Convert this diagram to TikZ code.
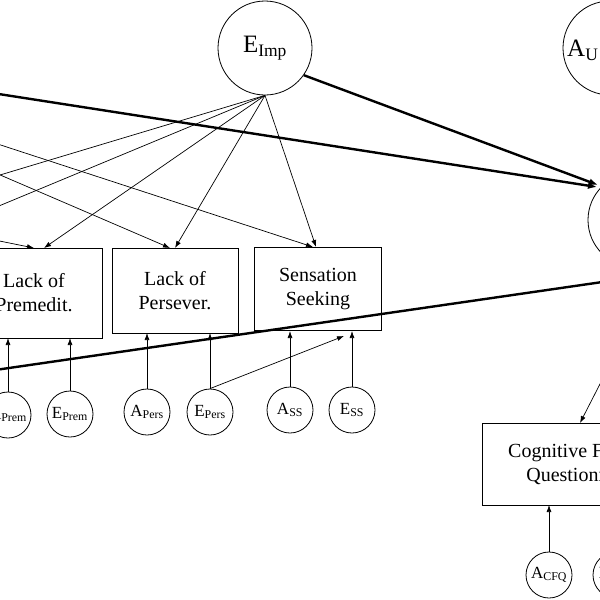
\documentclass[tikz,border=0pt]{standalone}
\usepackage{fontspec}
\setmainfont{Liberation Serif}
\usetikzlibrary{arrows.meta}
\begin{document}
\begin{tikzpicture}[x=1pt,y=-1pt,
  lat/.style={draw,circle,minimum size=94pt,inner sep=0pt,line width=0.8pt,font=\fontsize{25}{27}\selectfont},
  res/.style={draw,circle,minimum size=46pt,inner sep=0pt,line width=0.8pt,font=\fontsize{17}{19}\selectfont},
  box/.style={draw,rectangle,line width=0.8pt,align=center,font=\fontsize{20}{24}\selectfont},
  thin/.style={line width=0.7pt,-{Latex[length=7pt,width=5pt]}},
  thick/.style={line width=2.4pt,-{Latex[length=9pt,width=7pt]}}]
\useasboundingbox (0,0) rectangle (600,600);
% latents
\node[lat] (EI) at (265,48) {E\textsubscript{Imp}};
\node[lat] (AU) at (610,48) {};
\node[font=\fontsize{25}{27}\selectfont,anchor=west,inner sep=0pt] (AUt) at (567,50) {A\textsubscript{U}};
\node[lat] (C) at (635,220) {};
% boxes
\node[box,minimum width=136pt,minimum height=90pt] (B1) at (34,293) {Lack of\\Premedit.};
\node[box,minimum width=126pt,minimum height=85pt] (B2) at (175,291) {Lack of\\Persever.};
\node[box,minimum width=127pt,minimum height=83pt] (B3) at (318,289) {Sensation\\Seeking};
\node[box,minimum width=200pt,minimum height=82pt,anchor=west] (CF) at (482,464) {Cognitive Failures\\Questionnaire};
% residuals
\node[res] (AP) at (8,415) {A\textsubscript{Prem}};
\node[res] (EP) at (70,414) {E\textsubscript{Prem}};
\node[res] (APe) at (147,412) {A\textsubscript{Pers}};
\node[res] (EPe) at (210,412) {E\textsubscript{Pers}};
\node[res] (AS) at (290,410) {A\textsubscript{SS}};
\node[res] (ES) at (352,410) {E\textsubscript{SS}};
\node[res] (AC) at (549,575) {A\textsubscript{CFQ}};
\node[res] (EC) at (616,575) {E\textsubscript{CFQ}};
% off-canvas sources
\coordinate (L1) at (-40,88);
\coordinate (L2) at (-60,378);
\coordinate (R2) at (630,278);
\coordinate (S1) at (-30,135);
\coordinate (S2) at (-30,162);
\coordinate (S3) at (-30,235);
\coordinate (T1) at (-30,184);
\coordinate (T2) at (-30,218);
\coordinate (R1) at (620,345);
% residual arrows
\foreach \r/\x in {AP/8,EP/70} \draw[thin] (\r.north) -- (\x,338);
\foreach \r/\x in {APe/147,EPe/210} \draw[thin] (\r.north) -- (\x,333);
\foreach \r/\x in {AS/290,ES/352} \draw[thin] (\r.north) -- (\x,331);
\draw[thin] (EPe.north) -- (344,336);
\draw[thin] (AC.north) -- (549,505);
% E_Imp loadings
\draw[thin] (EI.south) -- (44,248);
\draw[thin] (EI.south) -- (175,248);
\draw[thin] (EI.south) -- (316,247);
\draw[line width=0.7pt] (EI.south) -- (T1);
\draw[line width=0.7pt] (EI.south) -- (T2);
% other loadings from left
\draw[thin] (S1) -- (313,247);
\draw[thin] (S2) -- (170,248);
\draw[thin] (S3) -- (34,248);
% thick paths
\draw[thick] (L1) -- (597,187);
\draw[thick] (EI.-35) -- (598,185);
\draw[line width=2.4pt] (L2) -- (R2);
\draw[thin] (R1) -- (580,423);
\end{tikzpicture}
\end{document}
